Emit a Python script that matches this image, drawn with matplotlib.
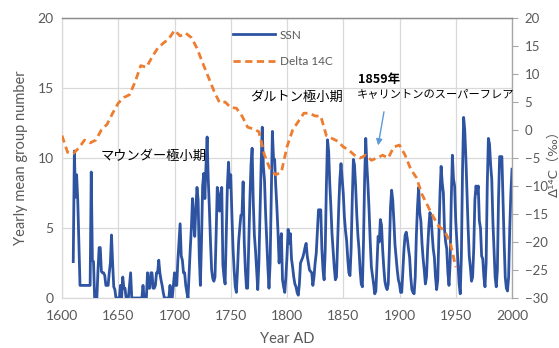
import matplotlib
matplotlib.use("Agg")
import matplotlib.pyplot as plt
from matplotlib.lines import Line2D

plt.rcParams['font.family'] = ['Lato', 'Noto Sans CJK JP', 'DejaVu Sans']

# Yearly mean sunspot group number, 1610-2000
ssn_start = 1610
ssn = [
    2.6, 10.5, 7.2, 8.8, 7.0, 4.0, 0.9, 0.9, 0.9, 0.9,          # 1610-1619
    0.9, 0.9, 0.9, 0.9, 0.9, 0.9, 9.0, 2.7, 2.6, 0.0,          # 1620-1629
    0.0, 0.0, 2.0, 3.6, 3.6, 1.9, 1.8, 1.8, 1.6, 0.9,          # 1630-1639
    0.9, 0.9, 1.8, 2.5, 4.5, 2.5, 0.8, 0.6, 0.0, 0.0,          # 1640-1649
    0.0, 0.0, 0.9, 0.0, 1.5, 0.7, 0.7, 0.0, 0.0, 0.0,          # 1650-1659
    0.9, 1.8, 0.0, 0.0, 0.0, 0.0, 0.0, 0.0, 0.0, 0.0,          # 1660-1669
    0.0, 0.0, 0.9, 0.0, 0.0, 0.0, 1.8, 0.7, 0.7, 1.8,          # 1670-1679
    1.8, 0.7, 0.7, 0.9, 1.8, 1.8, 2.7, 1.8, 1.3, 0.9,          # 1680-1689
    0.4, 0.0, 0.0, 0.0, 0.0, 0.0, 0.9, 0.0, 0.0, 0.9,          # 1690-1699
    1.8, 0.9, 0.9, 2.7, 4.0, 5.3, 3.0, 2.7, 1.8, 1.8,          # 1700-1709
    0.9, 0.4, 0.0, 1.8, 3.5, 5.0, 7.1, 5.5, 4.4, 6.5,          # 1710-1719
    7.9, 7.0, 3.0, 0.9, 4.0, 8.0, 8.9, 7.1, 9.5, 11.5,         # 1720-1729
    8.5, 6.4, 4.0, 2.0, 1.4, 1.2, 1.5, 4.5, 7.9, 7.5,          # 1730-1739
    6.2, 6.8, 7.9, 2.4, 1.5, 1.0, 4.5, 8.0, 9.7, 7.9,          # 1740-1749
    8.8, 6.0, 3.6, 2.0, 0.8, 0.4, 2.0, 4.0, 5.0, 5.9,          # 1750-1759
    6.0, 8.3, 4.0, 2.0, 0.7, 0.7, 4.0, 7.0, 9.5, 10.7,         # 1760-1769
    6.9, 4.5, 3.4, 2.0, 0.6, 2.5, 6.0, 9.5, 12.2, 9.4,         # 1770-1779
    8.4, 6.0, 4.1, 2.2, 0.7, 2.5, 7.0, 11.9, 10.0, 9.9,        # 1780-1789
    8.0, 6.5, 4.7, 2.5, 4.0, 4.6, 1.3, 0.8, 0.4, 1.5,          # 1790-1799
    3.0, 4.9, 3.9, 4.6, 2.8, 2.2, 1.5, 1.0, 0.8, 0.4,          # 1800-1809
    0.2, 1.0, 2.5, 2.7, 2.9, 3.2, 3.6, 3.9, 3.0, 2.5,          # 1810-1819
    2.0, 1.9, 1.8, 0.9, 1.5, 2.5, 3.2, 4.8, 6.3, 6.3,          # 1820-1829
    6.3, 3.5, 2.0, 1.3, 3.5, 8.0, 11.3, 10.5, 8.2, 6.5,        # 1830-1839
    4.6, 3.4, 2.2, 1.3, 1.5, 4.0, 6.5, 8.5, 9.6, 8.5,          # 1840-1849
    7.5, 5.8, 4.8, 4.1, 2.8, 1.8, 1.6, 3.5, 7.0, 9.9,          # 1850-1859
    9.5, 8.0, 6.0, 4.5, 3.5, 2.0, 1.0, 0.8, 4.0, 8.5,          # 1860-1869
    11.4, 9.5, 8.0, 6.2, 4.0, 2.2, 1.6, 1.0, 0.3, 0.5,         # 1870-1879
    2.5, 4.4, 4.0, 5.6, 5.2, 3.5, 2.2, 1.2, 0.8, 0.6,          # 1880-1889
    1.0, 3.5, 6.5, 7.7, 7.0, 5.5, 3.8, 2.9, 2.0, 1.3,          # 1890-1899
    1.0, 0.4, 0.4, 2.0, 3.5, 4.5, 4.7, 4.2, 3.5, 2.9,          # 1900-1909
    1.5, 0.6, 0.4, 0.3, 1.5, 4.5, 6.5, 7.9, 6.1, 5.5,          # 1910-1919
    3.9, 2.8, 2.0, 1.0, 1.5, 3.5, 5.0, 6.1, 5.9, 4.6,          # 1920-1929
    3.5, 2.9, 1.5, 0.6, 1.3, 4.5, 7.5, 9.4, 8.2, 7.5,          # 1930-1939
    4.9, 4.0, 3.5, 1.8, 0.9, 2.5, 7.0, 10.2, 8.5, 8.0,         # 1940-1949
    5.5, 4.0, 2.5, 1.0, 0.3, 3.0, 9.0, 12.9, 12.0, 10.0,       # 1950-1959
    7.5, 5.0, 3.0, 2.2, 1.2, 1.5, 3.5, 7.0, 8.0, 7.5,          # 1960-1969
    8.0, 5.5, 5.0, 3.0, 2.8, 1.5, 0.8, 2.5, 8.0, 11.4,         # 1970-1979
    11.0, 9.5, 8.5, 5.5, 3.5, 1.5, 0.8, 2.0, 7.0, 10.1,        # 1980-1989
    10.1, 10.1, 7.0, 4.0, 1.5, 0.7, 0.5, 1.5, 5.0, 7.5,        # 1990-1999
    9.2,                                                       # 2000
]
ssn_years = list(range(ssn_start, ssn_start + len(ssn)))

# Delta 14C (permil), five-year steps
c14_years = list(range(1600, 1955, 5))
c14 = [
    -1.0, -4.0, -4.2, -3.2, -1.8, -2.3, -1.8, 0.0, 1.0, 3.0,   # 1600-1645
    4.8, 5.8, 6.3, 8.6, 11.5, 11.2, 13.0, 14.6, 15.5, 16.3,    # 1650-1695
    17.8, 16.8, 17.3, 16.5, 14.6, 12.0, 9.5, 7.0, 4.9, 5.0,    # 1700-1745
    4.0, 3.9, 2.5, 0.5, 0.2, -0.3, -4.5, -7.0, -8.0, -7.5,     # 1750-1795
    -3.0, 0.0, 1.5, 3.0, 3.0, 2.5, 2.5, -1.0, -1.5, -2.0,      # 1800-1845
    -3.0, -3.6, -4.5, -5.0, -4.5, -5.4, -5.0, -4.5, -5.0, -3.0, # 1850-1895
    -2.7, -4.5, -7.0, -8.5, -11.5, -13.5, -15.5, -17.2, -18.0, -20.0,  # 1900-1945
    -24.5,                                                     # 1950
]

x_ticks = [1600, 1650, 1700, 1750, 1800, 1850, 1900, 1950, 2000]
left_ticks = [0, 5, 10, 15, 20]
right_ticks = [-30, -25, -20, -15, -10, -5, 0, 5, 10, 15, 20]

blue = '#2E54A1'
orange = '#ED7D31'
label_gray = '#595959'
grid_gray = '#D9D9D9'

fig = plt.figure(figsize=(5.59, 3.48), dpi=100)
ax = fig.add_axes([62 / 559, 50 / 348, 450 / 559, 280 / 348])
ax2 = ax.twinx()

ax.plot(ssn_years, ssn, color=blue, lw=2.0, solid_joinstyle='round', zorder=3)
ax2.plot(c14_years, c14, color=orange, lw=2.0, linestyle=(0, (2.6, 1.6)), zorder=3)

ax.set_xlim(1600, 2000)
ax.set_ylim(0, 20)
ax2.set_ylim(-30, 20)
ax.set_xticks(x_ticks)
ax.set_yticks(left_ticks)
ax2.set_yticks(right_ticks)

ax.grid(True, color=grid_gray, lw=0.9)
ax.set_axisbelow(True)
ax.tick_params(axis='both', length=0, labelsize=10, labelcolor=label_gray, pad=6)
ax.tick_params(axis='x', pad=9)
ax2.tick_params(axis='y', length=4, width=0.8, color='#A6A6A6', labelsize=9.5,
                labelcolor=label_gray, pad=5)

for name, sp in ax.spines.items():
    sp.set_color(grid_gray)
    sp.set_linewidth(0.9)
for name, sp in ax2.spines.items():
    sp.set_visible(False)
ax2.spines['right'].set_visible(True)
ax2.spines['right'].set_color('#A6A6A6')
ax2.spines['right'].set_linewidth(0.9)
ax2.spines['top'].set_visible(True)
ax2.spines['top'].set_color('#8C8C8C')
ax2.spines['top'].set_linewidth(1.0)

ax.set_xlabel('Year AD', fontsize=10.5, color=label_gray, labelpad=7)
ax.set_ylabel('Yearly mean group number', fontsize=10.5, color=label_gray, labelpad=7)
fig.text(554 / 559, 1 - 160 / 348, 'Δ¹⁴C（‰）', rotation=90, ha='center', va='center',
         fontsize=9.5, color=label_gray, family=['DejaVu Sans', 'Noto Sans CJK JP'])

handles = [Line2D([], [], color=blue, lw=2.0),
           Line2D([], [], color=orange, lw=2.0, linestyle=(0, (2.6, 1.6)))]
leg = fig.legend(handles, ['SSN', 'Delta 14C'], loc='upper left',
                 bbox_to_anchor=(222 / 559, 1 - 19 / 348), frameon=False,
                 fontsize=8.5, handlelength=3.6, handletextpad=0.4, labelspacing=1.3)
for t in leg.get_texts():
    t.set_color(label_gray)

jp = ['Noto Sans CJK JP', 'DejaVu Sans']
ax2.text(1634, 10.1, 'マウンダー極小期', transform=ax.transData, fontsize=9.5,
         family=jp, ha='left', va='center', color='black', zorder=5)
ax2.text(1767, 14.3, 'ダルトン極小期', transform=ax.transData, fontsize=9.5,
         family=jp, ha='left', va='center', color='black', zorder=5)
ax2.text(1863, 15.6, '1859年', transform=ax.transData, fontsize=9,
         family=jp, weight='bold', ha='left', va='center', color='black', zorder=5)
ax2.text(1862, 14.5, 'キャリントンのスーパーフレア', transform=ax.transData, fontsize=8.1,
         family=jp, ha='left', va='center', color='black', zorder=5)
ax2.annotate('', xy=(1881, 10.9), xytext=(1886.2, 13.3),
             xycoords=ax.transData, textcoords=ax.transData,
             arrowprops=dict(arrowstyle='-|>', color='#5B9BD5', lw=1.0,
                             mutation_scale=9, shrinkA=0, shrinkB=0), zorder=5)

fig.savefig('out.png', dpi=100)
